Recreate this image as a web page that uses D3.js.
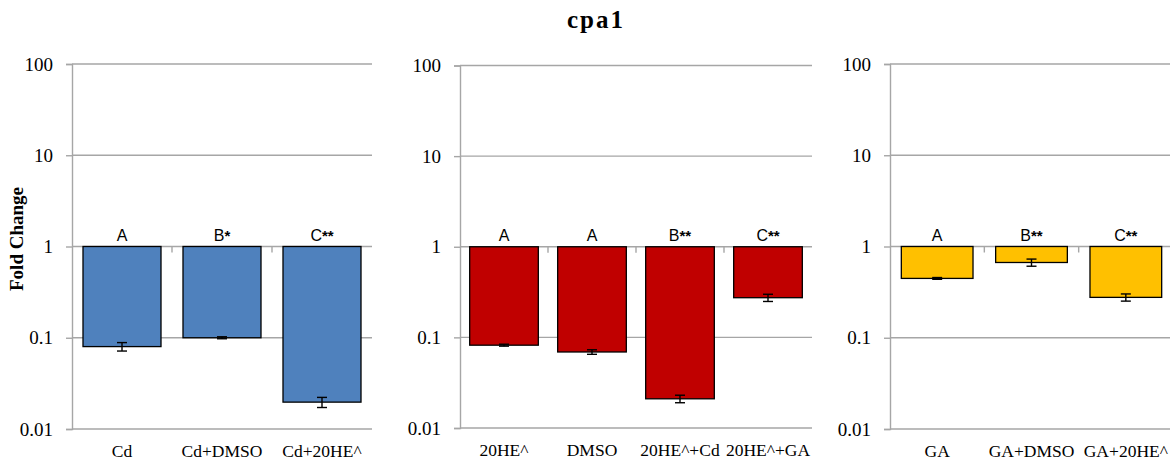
<!DOCTYPE html>
<html>
<head>
<meta charset="utf-8">
<script src="https://cdn.jsdelivr.net/npm/d3@7"></script>
<style>
  html, body { margin: 0; padding: 0; background: #fff; }
  svg { display: block; }
</style>
</head>
<body>
<svg id="chart" width="1170" height="463"></svg>
<script>
// Cadmium treatments
const cdCategories = ["Cd", "Cd+DMSO", "Cd+20HE^"];
const cdValues = [0.08, 0.1, 0.0197];
const cdErrors = [0.0085, 0.0025, 0.0025];
const cdLetters = ["A", "B*", "C**"];

// 20-hydroxyecdysone treatments
const heCategories = ["20HE^", "DMSO", "20HE^+Cd", "20HE^+GA"];
const heValues = [0.082, 0.069, 0.021, 0.274];
const heErrors = [0.002, 0.004, 0.002, 0.025];
const heLetters = ["A", "A", "B**", "C**"];

// Gibberellic acid treatments
const gaCategories = ["GA", "GA+DMSO", "GA+20HE^"];
const gaValues = [0.447, 0.668, 0.277];
const gaErrors = [0.01, 0.06, 0.025];
const gaLetters = ["A", "B**", "C**"];

const yTicks = [0.01, 0.1, 1, 10, 100];
const yTickLabels = ["0.01", "0.1", "1", "10", "100"];

const panels = [
  { cats: cdCategories, vals: cdValues, errs: cdErrors, letters: cdLetters,
    color: "#4F81BD", x0: 72, x1: 372, top: 64, bottom: 429, pad: 0.22 },
  { cats: heCategories, vals: heValues, errs: heErrors, letters: heLetters,
    color: "#C00000", x0: 460, x1: 812, top: 65.5, bottom: 428, pad: 0.22 },
  { cats: gaCategories, vals: gaValues, errs: gaErrors, letters: gaLetters,
    color: "#FFC000", x0: 890, x1: 1173, top: 64, bottom: 429, pad: 0.24 }
];

const svg = d3.select("#chart");
const serif = "'Liberation Serif', 'Times New Roman', serif";
const sans = "'Liberation Sans', Arial, sans-serif";

// Title
svg.append("text")
  .attr("x", 596).attr("y", 28)
  .attr("text-anchor", "middle")
  .attr("font-family", serif)
  .attr("font-weight", "bold")
  .attr("font-size", 25)
  .attr("letter-spacing", 2)
  .text("cpa1");

// Shared y-axis title
svg.append("text")
  .attr("transform", "translate(23,239) rotate(-90)")
  .attr("text-anchor", "middle")
  .attr("font-family", serif)
  .attr("font-weight", "bold")
  .attr("font-size", 19)
  .text("Fold Change");

panels.forEach(p => {
  const y = d3.scaleLog().domain([0.01, 100]).range([p.bottom, p.top]);
  const x = d3.scaleBand().domain(p.cats).range([p.x0, p.x1]).paddingInner(p.pad).paddingOuter(p.pad / 2);
  const g = svg.append("g");

  // Horizontal gridlines
  g.selectAll("line.grid").data(yTicks).join("line")
    .attr("class", "grid")
    .attr("x1", p.x0).attr("x2", p.x1)
    .attr("y1", d => y(d)).attr("y2", d => y(d))
    .attr("stroke", "#A6A6A6").attr("stroke-width", 1.4);

  // Y axis
  const yAxis = d3.axisLeft(y).tickValues(yTicks)
    .tickFormat((d, i) => yTickLabels[i]).tickSize(6).tickPadding(13);
  const ya = g.append("g").attr("transform", `translate(${p.x0},0)`).call(yAxis);
  ya.select(".domain").attr("stroke", "#A6A6A6").attr("stroke-width", 1.4);
  ya.selectAll(".tick line").attr("stroke", "#A6A6A6").attr("stroke-width", 1.4);
  ya.selectAll(".tick text")
    .attr("font-family", serif).attr("font-size", 19).attr("fill", "#000");

  // Category axis sitting on the fold-change = 1 baseline
  const step = x.step();
  const bounds = d3.range(1, p.cats.length).map(i => p.x0 + step * i);
  g.selectAll("line.ctick").data(bounds).join("line")
    .attr("class", "ctick")
    .attr("x1", d => d).attr("x2", d => d)
    .attr("y1", y(1)).attr("y2", y(1) + 6)
    .attr("stroke", "#A6A6A6").attr("stroke-width", 1.4);

  // Bars hang from 1 down to the value
  g.selectAll("rect.bar").data(p.vals).join("rect")
    .attr("class", "bar")
    .attr("x", (d, i) => x(p.cats[i]))
    .attr("width", x.bandwidth())
    .attr("y", y(1))
    .attr("height", d => y(d) - y(1))
    .attr("fill", p.color)
    .attr("stroke", "#000").attr("stroke-width", 1.3);

  // Error bars
  const eb = g.selectAll("g.err").data(p.vals).join("g").attr("class", "err");
  eb.append("line")
    .attr("x1", (d, i) => x(p.cats[i]) + x.bandwidth() / 2)
    .attr("x2", (d, i) => x(p.cats[i]) + x.bandwidth() / 2)
    .attr("y1", (d, i) => y(d + p.errs[i]))
    .attr("y2", (d, i) => y(d - p.errs[i]))
    .attr("stroke", "#000").attr("stroke-width", 1.4);
  [1, -1].forEach(s => {
    eb.append("line")
      .attr("x1", (d, i) => x(p.cats[i]) + x.bandwidth() / 2 - 5)
      .attr("x2", (d, i) => x(p.cats[i]) + x.bandwidth() / 2 + 5)
      .attr("y1", (d, i) => y(d + s * p.errs[i]))
      .attr("y2", (d, i) => y(d + s * p.errs[i]))
      .attr("stroke", "#000").attr("stroke-width", 1.4);
  });

  // Significance letters above each bar
  g.selectAll("text.letter").data(p.letters).join("text")
    .attr("class", "letter")
    .attr("x", (d, i) => x(p.cats[i]) + x.bandwidth() / 2)
    .attr("y", y(1) - 6)
    .attr("text-anchor", "middle")
    .attr("font-family", sans).attr("font-size", 16)
    .each(function(d) {
      const t = d3.select(this);
      t.append("tspan").text(d.charAt(0));
      if (d.length > 1) t.append("tspan").attr("font-size", 15).attr("font-weight", "bold").text(d.slice(1));
    });

  // Category labels below the plot
  g.selectAll("text.cat").data(p.cats).join("text")
    .attr("class", "cat")
    .attr("x", d => x(d) + x.bandwidth() / 2)
    .attr("y", p.bottom + 28)
    .attr("text-anchor", "middle")
    .attr("font-family", serif).attr("font-size", 17.5)
    .text(d => d);
});
</script>
</body>
</html>
